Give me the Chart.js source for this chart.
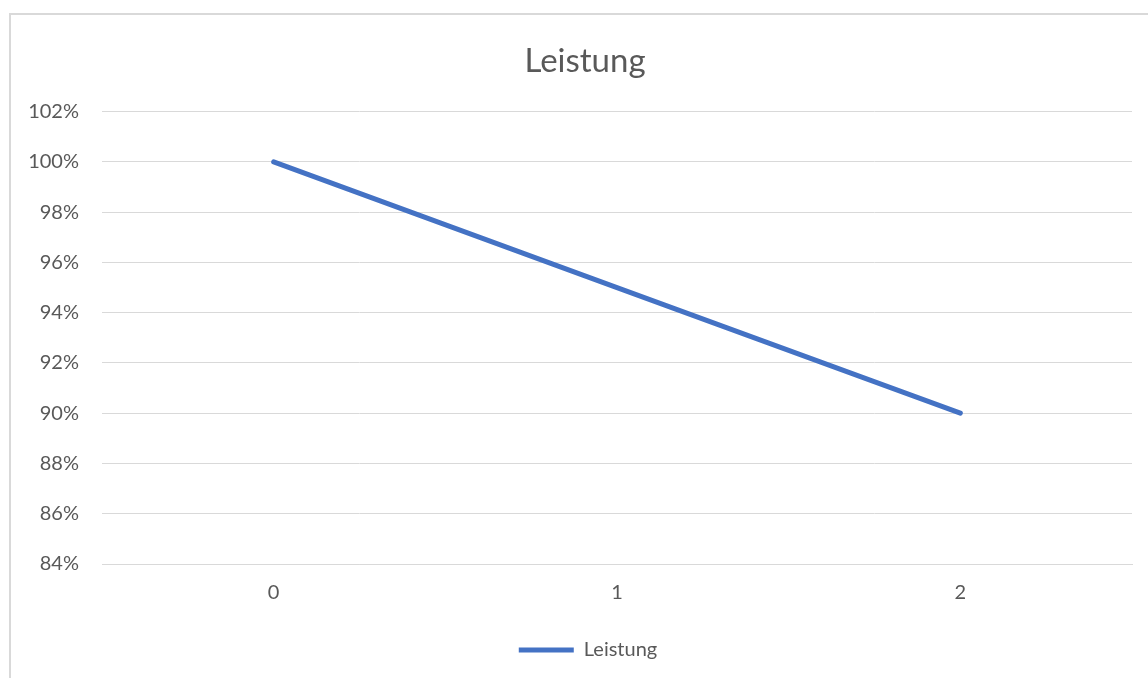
<!DOCTYPE html>
<html>
<head>
<meta charset="utf-8">
<script src="https://cdn.jsdelivr.net/npm/chart.js@4/dist/chart.umd.min.js"></script>
<style>
    html, body { margin: 0; padding: 0; background: #ffffff; overflow: hidden; }
    #frame {
        position: absolute; left: 9px; top: 13px;
        width: 1200px; height: 720px;
        border: 2px solid #d9d9d9;
    }
    #wrap { position: absolute; left: 0; top: 0; width: 1148px; height: 678px; }
</style>
</head>
<body>
<div id="frame"></div>
<div id="wrap"><canvas id="leistungChart" width="1148" height="678"></canvas></div>
<script>
// Leistung series
const categories = ["0", "1", "2"];
const leistungValues = [100, 95, 90];
const yTicks = [84, 86, 88, 90, 92, 94, 96, 98, 100, 102];

const textColor = "#595959";
const gridColor = "#d9d9d9";
const fontFamily = "Lato, 'Liberation Sans', sans-serif";

// title and legend sit centred on the whole chart box, not just the plot
const centreOnBox = {
    id: 'centreOnBox',
    afterLayout(chart) {
        if (chart.titleBlock) chart.titleBlock.left += 38;
        if (chart.legend) chart.legend.left += 44;
    }
};

let leistungChart = new Chart(document.getElementById("leistungChart"), {
    type: 'line',
    data: {
        labels: categories,
        datasets: [{
            label: "Leistung",
            data: leistungValues,
            borderColor: "#4472c4",
            backgroundColor: "#4472c4",
            borderWidth: 5,
            borderCapStyle: 'round',
            pointRadius: 0,
            pointHoverRadius: 0,
            tension: 0,
            fill: false
        }]
    },
    options: {
        responsive: false,
        animation: false,
        layout: { padding: { left: 0, right: 16, top: 0, bottom: 8 } },
        plugins: {
            title: {
                display: true,
                text: "Leistung",
                color: textColor,
                font: { family: fontFamily, size: 33, weight: 'normal' },
                padding: { top: 42, bottom: 30 }
            },
            legend: {
                position: 'bottom',
                labels: {
                    color: textColor,
                    font: { family: fontFamily, size: 20 },
                    usePointStyle: true,
                    pointStyle: 'line',
                    pointStyleWidth: 55,
                    padding: 10
                }
            },
            tooltip: { enabled: false }
        },
        scales: {
            x: {
                offset: true,
                grid: { display: false, drawTicks: false },
                border: { color: gridColor, width: 1 },
                ticks: {
                    color: textColor,
                    font: { family: fontFamily, size: 20 },
                    padding: 17
                },
                afterFit: function (scale) { scale.height = 66; }
            },
            y: {
                min: yTicks[0],
                max: yTicks[yTicks.length - 1],
                afterBuildTicks: function (scale) {
                    scale.ticks = yTicks.map(v => ({ value: v }));
                },
                grid: { color: gridColor, lineWidth: 1, drawTicks: false },
                border: { display: false },
                ticks: {
                    color: textColor,
                    font: { family: fontFamily, size: 20 },
                    padding: 23,
                    callback: v => v + "%"
                },
                afterFit: function (scale) { scale.width = 102; }
            }
        }
    },
    plugins: [centreOnBox]
});
</script>
</body>
</html>
